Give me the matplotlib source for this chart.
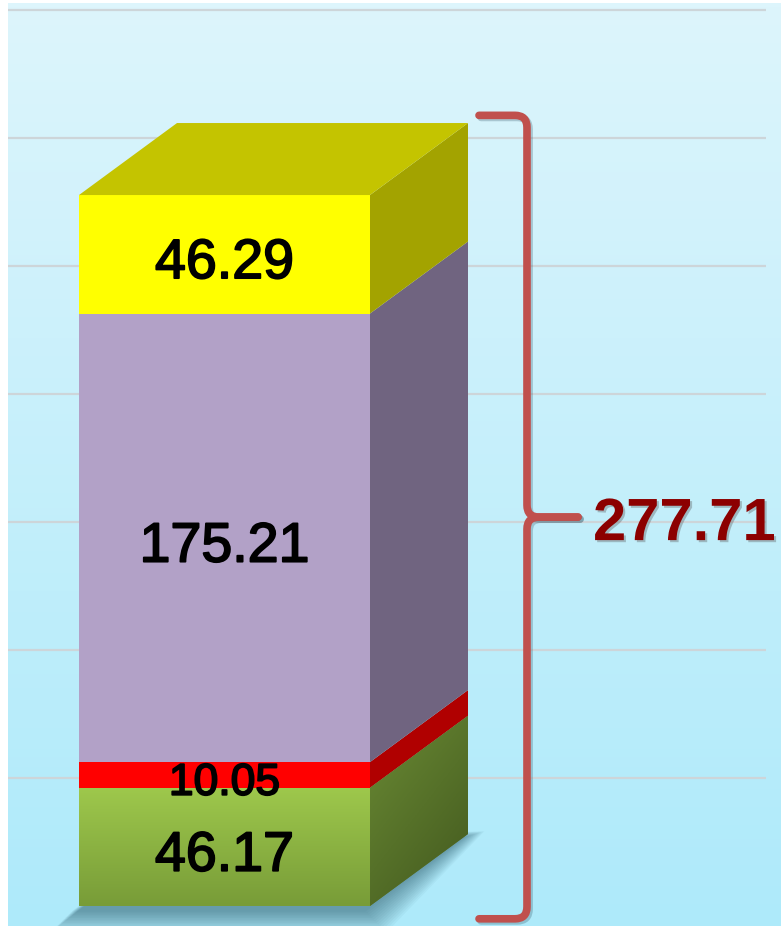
import numpy as np
import matplotlib.pyplot as plt
from matplotlib.patches import Polygon, Rectangle, PathPatch
from matplotlib.path import Path
import matplotlib.patheffects as pe

# data, bottom to top
values = [46.17, 10.05, 175.21, 46.29]
labels = ['46.17', '10.05', '175.21', '46.29']
total_label = '277.71'
grid_values = [50, 100, 150, 200, 250, 300, 350]

front_colors = ['#9bc74c', '#ff0000', '#b2a1c7', '#ffff00']
side_colors = ['#5f7c2e', '#b00000', '#706480', '#a3a300']
top_color = '#c4c400'
label_sizes = [40, 32, 40, 40]

W, H = 781, 926
fig = plt.figure(figsize=(W / 100, H / 100), dpi=100, facecolor='white')
ax = fig.add_axes([0, 0, 1, 1])

# pixel -> data helpers (layout only)
def px(x):
    return -0.5 + (x - 79) / 291.0

def py(y):
    return (906 - y) / 2.56

ax.set_xlim(px(0), px(W))
ax.set_ylim(py(H), py(0))
ax.axis('off')

# background gradient
top_rgb = np.array([221, 245, 252]) / 255.
bot_rgb = np.array([174, 234, 250]) / 255.
t = np.linspace(0, 1, 256)[:, None]
grad = (top_rgb * (1 - t) + bot_rgb * t)[:, None, :]
ax.imshow(grad, extent=[px(8), px(W), py(H), py(3)], aspect='auto', zorder=0)

# gridlines
ax.hlines(grid_values, px(8), px(766), color='#cdd5d9', lw=1.6, zorder=1)

dx = 98 / 291.0
dy = 72 / 2.56

# soft shadow under the bar
for k in range(14):
    e = (14 - k) * 1.6
    ex = e / 291.0
    ey = e / 2.56
    sx = -6 / 291.0
    sy = -4 / 2.56
    pts = [(-0.5 - ex + sx, -ey + sy), (0.5 + ex + sx, -ey + sy),
           (0.5 + dx + ex + sx, dy + ey * 0.3 + sy), (-0.5 + dx + sx, dy + sy)]
    ax.add_patch(Polygon(pts, closed=True, fc='#1d4a5c', ec='none', alpha=0.045, zorder=2))

bottoms = np.concatenate([[0], np.cumsum(values)[:-1]])
total = float(np.sum(values))

for i, (b, v) in enumerate(zip(bottoms, values)):
    front = Rectangle((-0.5, b), 1, v, fc=front_colors[i], ec='none', zorder=3)
    ax.add_patch(front)
    side = Polygon([(0.5, b), (0.5 + dx, b + dy), (0.5 + dx, b + v + dy), (0.5, b + v)],
                   closed=True, fc=side_colors[i], ec='none', zorder=3)
    ax.add_patch(side)
    if i == 0:
        # green gradients
        g1 = np.array([158, 200, 76]) / 255.
        g2 = np.array([120, 156, 56]) / 255.
        tt = np.linspace(0, 1, 128)[:, None]
        gimg = (g1 * (1 - tt) + g2 * tt)[:, None, :]
        im = ax.imshow(gimg, extent=[-0.5, 0.5, b, b + v], aspect='auto', zorder=3.1)
        im.set_clip_path(front)
        s1 = np.array([106, 138, 52]) / 255.
        s2 = np.array([66, 88, 30]) / 255.
        yy, xx = np.mgrid[0:1:128j, 0:1:128j]
        w = np.clip(0.6 * yy + 0.4 * xx, 0, 1)[:, :, None]
        simg = s1 * (1 - w) + s2 * w
        im2 = ax.imshow(simg, extent=[0.5, 0.5 + dx, b, b + v + dy], aspect='auto', zorder=3.1)
        im2.set_clip_path(side)

# top face
T = total
ax.add_patch(Polygon([(-0.5, T), (0.5, T), (0.5 + dx, T + dy), (-0.5 + dx, T + dy)],
                     closed=True, fc=top_color, ec='none', zorder=3))

# segment labels (slightly heavier than regular)
for i, (b, v) in enumerate(zip(bottoms, values)):
    ax.text(0, b + v / 2 - 1.5, labels[i], ha='center', va='center_baseline',
            fontsize=label_sizes[i], family='Liberation Sans', color='black', zorder=5,
            path_effects=[pe.withStroke(linewidth=1.3, foreground='black')])

# brace
xv = 0.5 + dx + 59 / 291.0
xl = 0.5 + dx + 11 / 291.0
xt = xv + 51 / 291.0
rx = 12 / 291.0
ry = 12 / 2.56
btop = T + dy + 3
bbot = -5
mid = (btop + bbot) / 2

upper = Path([(xl, btop), (xv - rx, btop), (xv, btop), (xv, btop - ry),
              (xv, mid + ry), (xv, mid), (xv + rx, mid), (xt, mid)],
             [Path.MOVETO, Path.LINETO, Path.CURVE3, Path.CURVE3,
              Path.LINETO, Path.CURVE3, Path.CURVE3, Path.LINETO])
lower = Path([(xl, bbot), (xv - rx, bbot), (xv, bbot), (xv, bbot + ry),
              (xv, mid - ry), (xv, mid), (xv + rx, mid), (xt, mid)],
             [Path.MOVETO, Path.LINETO, Path.CURVE3, Path.CURVE3,
              Path.LINETO, Path.CURVE3, Path.CURVE3, Path.LINETO])
for p in (upper, lower):
    pp = PathPatch(p, fill=False, ec='#c0504d', lw=5.5, capstyle='round',
                   joinstyle='round', zorder=4)
    pp.set_path_effects([pe.SimpleLineShadow(offset=(1.5, -1.5), shadow_color='#3d6070', alpha=0.3),
                         pe.Normal()])
    ax.add_patch(pp)

ax.text(xt + 15 / 291.0, mid - 9, total_label, ha='left', va='baseline',
        fontsize=43, fontweight='bold', family='Liberation Sans', color='#8c0000', zorder=5,
        path_effects=[pe.withSimplePatchShadow(offset=(1.5, -1.5), shadow_rgbFace='#555555', alpha=0.35)])

fig.savefig('out.png', dpi=100, facecolor='white')
